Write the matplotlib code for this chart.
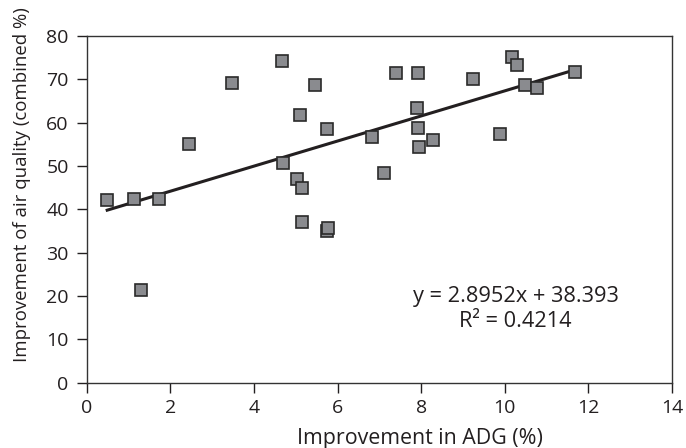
import matplotlib
matplotlib.use("Agg")
import matplotlib.pyplot as plt
import numpy as np

plt.rcParams['font.family'] = ['Open Sans', 'DejaVu Sans']

adg = [0.49, 1.14, 1.74, 2.44, 3.47, 4.67, 5.45, 5.09, 5.74, 7.40, 7.92, 7.89,
       7.92, 8.28, 7.96, 6.83, 4.70, 5.04, 5.14, 7.10, 9.25, 10.17, 10.29, 10.49,
       10.78, 11.67, 9.89, 5.15, 5.74, 5.76, 1.31]
air = [42.1, 42.3, 42.3, 55.0, 69.1, 74.3, 68.8, 61.7, 58.6, 71.5, 71.5, 63.4,
       58.8, 56.1, 54.4, 56.6, 50.7, 46.9, 45.0, 48.4, 70.1, 75.2, 73.4, 68.7,
       68.1, 71.7, 57.4, 37.1, 35.0, 35.8, 21.5]
slope = 2.8952
intercept = 38.393
r2 = 0.4214
xticks = [0, 2, 4, 6, 8, 10, 12, 14]
yticks = [0, 10, 20, 30, 40, 50, 60, 70, 80]

fig = plt.figure(figsize=(6.86, 4.48), dpi=100)
ax = fig.add_axes([0.1264, 0.1458, 0.9796 - 0.1264, 0.9196 - 0.1458])

xs = np.array([min(adg), max(adg)])
ax.plot(xs, slope * xs + intercept, color='#231f20', lw=2.2, zorder=2)
ax.plot(adg, air, linestyle='none', marker='s', markersize=8,
        markerfacecolor='#8a8b8f', markeredgecolor='#2a2a2a', markeredgewidth=1.2, zorder=3)

ax.set_xlim(0, 14)
ax.set_ylim(0, 80)
ax.set_xticks(xticks)
ax.set_yticks(yticks)
ax.tick_params(direction='out', length=7, width=1, colors='#231f20', labelsize=14)
ax.tick_params(axis='x', pad=5)
ax.tick_params(axis='y', pad=6)
for s in ax.spines.values():
    s.set_color('#333333')
    s.set_linewidth(1.0)

ax.set_xlabel('Improvement in ADG (%)', fontsize=15.4, color='#231f20')
ax.xaxis.set_label_coords(0.570, -0.177)
ax.xaxis.label.set_va('baseline')
ax.set_ylabel('Improvement of air quality (combined %)', fontsize=13.4, color='#231f20')
ax.yaxis.set_label_coords(-0.1105, 0.570)
ax.yaxis.label.set_va('center')

ax.text(10.26, 19.8, 'y = {:.4f}x + {:.3f}'.format(slope, intercept), ha='center', va='center',
        fontsize=15.7, color='#231f20')
ax.text(10.26, 14.2, 'R² = {:.4f}'.format(r2), ha='center', va='center',
        fontsize=15.7, color='#231f20')

fig.savefig('out.png', dpi=100)
